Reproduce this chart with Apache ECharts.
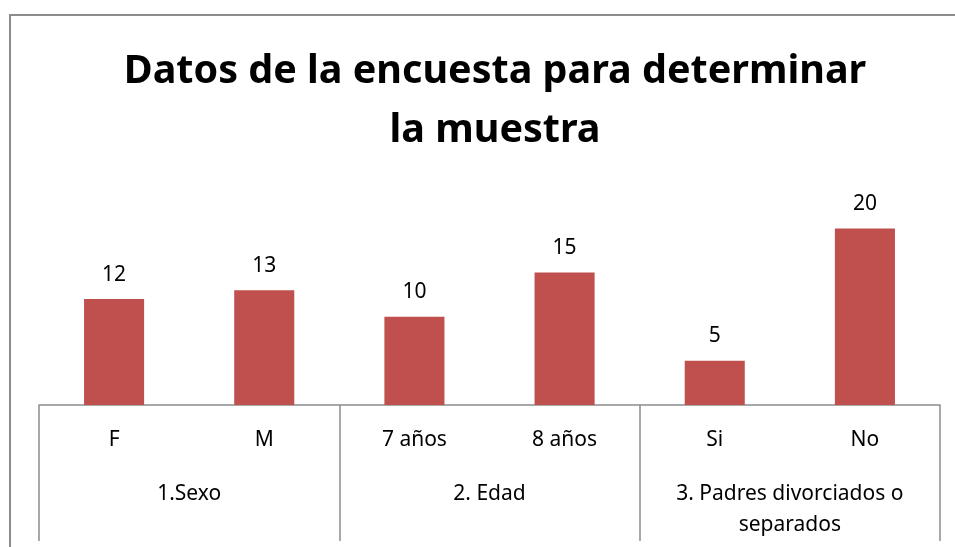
<!DOCTYPE html>
<html><head><meta charset="utf-8">
<script src="https://cdn.jsdelivr.net/npm/echarts@6/dist/echarts.min.js"></script>
<style>html,body{margin:0;padding:0;background:#fff}#c{width:955px;height:547px}</style>
</head><body><div id="c"></div>
<script>
const titleText = 'Datos de la encuesta para determinar\nla muestra';
const categories = ['F', 'M', '7 años', '8 años', 'Si', 'No'];
const groups = ['1.Sexo', '2. Edad', '3. Padres divorciados o\nseparados'];
const values = [12, 13, 10, 15, 5, 20];

const FONT = 'Noto Sans';
const chart = echarts.init(document.getElementById('c'));
chart.setOption({
  animation: false,
  backgroundColor: '#fff',
  title: {
    text: titleText, left: 490, top: 37, textAlign: 'center',
    textStyle: { fontFamily: FONT, fontWeight: 'bold', fontSize: 39.5, lineHeight: 59, color: '#000' }
  },
  graphic: [{
    type: 'rect', shape: { x: 10, y: 15, width: 1000, height: 1000 },
    style: { fill: 'none', stroke: '#8c8c8c', lineWidth: 2 }, silent: true
  }],
  grid: { left: 39, right: 15, top: 184.3, bottom: 142 },
  yAxis: { type: 'value', min: 0, max: 25, show: false },
  xAxis: [{
    type: 'category', data: categories, position: 'bottom',
    axisLine: { show: true, lineStyle: { color: '#8c8c8c', width: 1.5 } },
    axisTick: { show: false },
    axisLabel: { margin: 25, fontFamily: FONT, fontSize: 21, color: '#000', interval: 0 }
  }, {
    type: 'category', data: groups, position: 'bottom',
    axisLine: { show: false },
    axisTick: { show: true, length: 136, interval: 0, lineStyle: { color: '#8c8c8c', width: 1.5 } },
    axisLabel: { margin: 74, fontFamily: FONT, fontSize: 21, lineHeight: 31, color: '#000', interval: 0, align: 'center' }
  }],
  series: [{
    type: 'bar', data: values, xAxisIndex: 0, barWidth: '40%',
    itemStyle: { color: '#C0504D' },
    label: { show: true, position: 'top', distance: 14, fontFamily: FONT, fontSize: 21, color: '#000' }
  }]
});
</script></body></html>
